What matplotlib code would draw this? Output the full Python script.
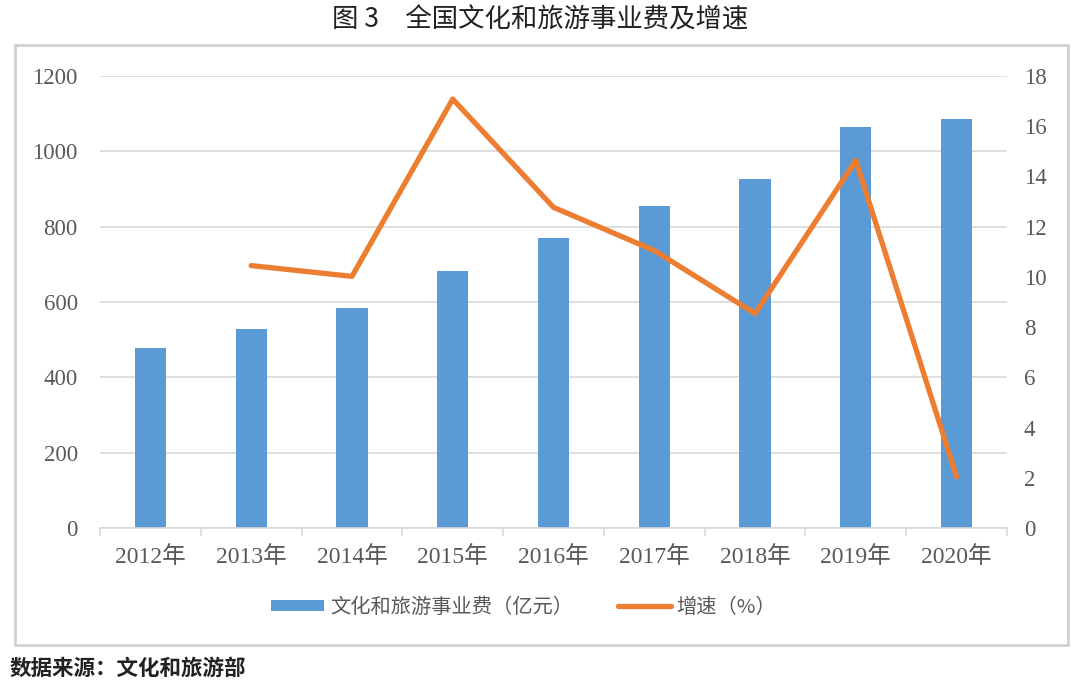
import numpy as np
import matplotlib
matplotlib.use('Agg')
import matplotlib.pyplot as plt
from matplotlib.patches import Rectangle

plt.rcParams['font.family'] = ['Liberation Serif', 'Noto Sans CJK SC', 'DejaVu Sans']

years = ['2012年', '2013年', '2014年', '2015年', '2016年', '2017年', '2018年', '2019年', '2020年']
spending = [479, 529, 583, 681, 769, 854, 926, 1064, 1086]
growth_years = years[1:]
growth = [10.45, 10.02, 17.08, 12.77, 11.05, 8.54, 14.64, 2.04]

bar_label = '文化和旅游事业费（亿元）'
line_label = '增速（%）'
title = '图 3　全国文化和旅游事业费及增速'
source = '数据来源：文化和旅游部'

blue = '#5B9BD5'
orange = '#ED7D31'
gray_txt = '#595959'

fig = plt.figure(figsize=(10.8, 6.89), dpi=100)
fig.patches.append(Rectangle((0.0139, 0.0639), 0.975, 0.8708, transform=fig.transFigure,
                             fill=False, edgecolor='#D0D0D0', linewidth=2))

ax = fig.add_axes([0.0926, 0.2337, 0.8398, 0.656])
x = np.arange(len(years))
ax.bar(x, spending, width=0.31, color=blue, zorder=2, label=bar_label)
ax.set_ylim(0, 1200)
ax.set_yticks(range(0, 1201, 200))
ax.set_xlim(-0.5, len(years) - 0.5)
ax.set_xticks(x)
ax.set_xticklabels(years)
ax.set_xticks(np.arange(-0.5, len(years)), minor=True)
ax.yaxis.grid(True, color='#D9D9D9', linewidth=1.2, zorder=0)
ax.set_axisbelow(True)
for s in ['top', 'right', 'left']:
    ax.spines[s].set_visible(False)
ax.spines['bottom'].set_color('#D9D9D9')
ax.spines['bottom'].set_linewidth(1.2)
ax.tick_params(axis='x', which='major', length=0, pad=13, labelsize=17, labelcolor=gray_txt)
ax.tick_params(axis='x', which='minor', length=6, color='#D9D9D9', width=1.2)
ax.tick_params(axis='y', length=0, pad=16, labelsize=16.5, labelcolor=gray_txt)

ax2 = ax.twinx()
ax2.plot(x[1:], growth, color=orange, linewidth=3.8, solid_capstyle='round', label=line_label)
ax2.set_ylim(0, 18)
ax2.set_yticks(range(0, 19, 2))
for s in ax2.spines.values():
    s.set_visible(False)
ax2.tick_params(axis='y', length=0, pad=12, labelsize=16.5, labelcolor=gray_txt)

h1, l1 = ax.get_legend_handles_labels()
h2, l2 = ax2.get_legend_handles_labels()
leg = fig.legend(h1 + h2, l1 + l2, loc='center', bbox_to_anchor=(0.485, 0.119), ncol=2,
                 frameon=False, handlelength=2.6, handleheight=0.5, columnspacing=2.2,
                 handletextpad=0.3, prop={'family': ['Noto Sans CJK SC'], 'size': 14.6})
for t in leg.get_texts():
    t.set_color(gray_txt)

fig.text(0.5, 0.971, title, ha='center', va='center', fontsize=19,
         family=['Noto Sans CJK SC'], color='#222222')
fig.text(0.009, 0.03, source, ha='left', va='center', fontsize=15.5,
         family=['Noto Sans CJK SC'], fontweight='bold', color='#222222')

fig.savefig('out.png', dpi=100)
